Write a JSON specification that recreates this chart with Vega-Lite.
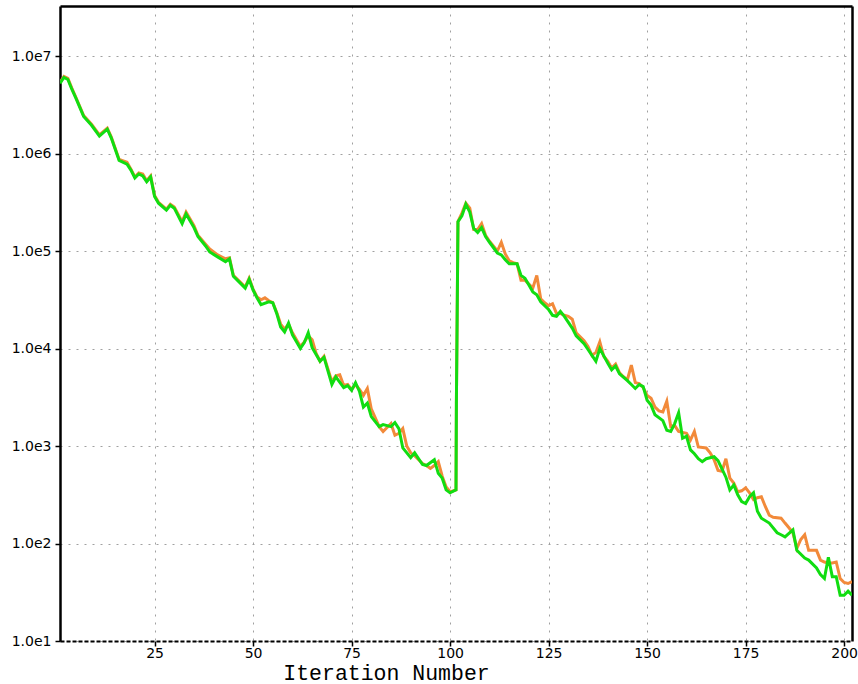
{
 "$schema": "https://vega.github.io/schema/vega-lite/v6.json",
 "width": 792,
 "height": 635,
 "autosize": "none",
 "padding": {"left": 60, "top": 6, "right": 6, "bottom": 43},
 "background": "white",
 "config": {"view": {"stroke": null}},
 "datasets": {
  "orange": [
   {"iteration":1,"residual":5370000},{"iteration":2,"residual":6170000},{"iteration":3,"residual":5890000},{"iteration":4,"residual":4680000},{"iteration":5,"residual":3800000},{"iteration":7,"residual":2450000},{"iteration":9,"residual":2000000},{"iteration":11,"residual":1550000},{"iteration":13,"residual":1820000},{"iteration":14,"residual":1480000},{"iteration":16,"residual":871000},{"iteration":18,"residual":813000},{"iteration":19,"residual":692000},{"iteration":20,"residual":575000},{"iteration":21,"residual":631000},{"iteration":22,"residual":617000},{"iteration":23,"residual":525000},{"iteration":24,"residual":589000},{"iteration":25,"residual":372000},{"iteration":26,"residual":316000},{"iteration":28,"residual":269000},{"iteration":29,"residual":302000},{"iteration":30,"residual":282000},{"iteration":32,"residual":200000},{"iteration":33,"residual":251000},{"iteration":35,"residual":182000},{"iteration":36,"residual":145000},{"iteration":38,"residual":117000},{"iteration":39,"residual":105000},{"iteration":41,"residual":91200},{"iteration":43,"residual":83200},{"iteration":44,"residual":85100},{"iteration":45,"residual":56200},{"iteration":47,"residual":46800},{"iteration":48,"residual":42700},{"iteration":49,"residual":52500},{"iteration":50,"residual":40700},{"iteration":51,"residual":33900},{"iteration":52,"residual":31600},{"iteration":53,"residual":33100},{"iteration":54,"residual":30900},{"iteration":55,"residual":29500},{"iteration":56,"residual":23400},{"iteration":57,"residual":17800},{"iteration":58,"residual":15800},{"iteration":59,"residual":17800},{"iteration":60,"residual":14500},{"iteration":62,"residual":10500},{"iteration":63,"residual":11700},{"iteration":64,"residual":13500},{"iteration":65,"residual":12300},{"iteration":66,"residual":8910},{"iteration":67,"residual":7410},{"iteration":68,"residual":8320},{"iteration":70,"residual":4570},{"iteration":71,"residual":5250},{"iteration":72,"residual":5370},{"iteration":73,"residual":4170},{"iteration":74,"residual":4270},{"iteration":75,"residual":3800},{"iteration":76,"residual":4270},{"iteration":77,"residual":3800},{"iteration":78,"residual":3310},{"iteration":79,"residual":3890},{"iteration":80,"residual":2400},{"iteration":82,"residual":1580},{"iteration":83,"residual":1410},{"iteration":85,"residual":1700},{"iteration":86,"residual":1290},{"iteration":87,"residual":1350},{"iteration":88,"residual":1510},{"iteration":89,"residual":1000},{"iteration":90,"residual":851},{"iteration":91,"residual":794},{"iteration":93,"residual":661},{"iteration":94,"residual":631},{"iteration":95,"residual":589},{"iteration":96,"residual":631},{"iteration":97,"residual":692},{"iteration":98,"residual":490},{"iteration":99,"residual":380},{"iteration":100,"residual":339},{"iteration":101.5,"residual":355},{"iteration":101.6,"residual":2750},{"iteration":101.8,"residual":22900},{"iteration":102,"residual":200000},{"iteration":103,"residual":245000},{"iteration":104,"residual":309000},{"iteration":105,"residual":275000},{"iteration":106,"residual":166000},{"iteration":107,"residual":166000},{"iteration":108,"residual":191000},{"iteration":109,"residual":145000},{"iteration":110,"residual":126000},{"iteration":112,"residual":100000},{"iteration":113,"residual":123000},{"iteration":114,"residual":93300},{"iteration":115,"residual":79400},{"iteration":116,"residual":75900},{"iteration":117,"residual":74100},{"iteration":118,"residual":50100},{"iteration":119,"residual":50100},{"iteration":120,"residual":45700},{"iteration":121,"residual":41700},{"iteration":122,"residual":56200},{"iteration":123,"residual":32400},{"iteration":124,"residual":29500},{"iteration":125,"residual":27500},{"iteration":126,"residual":28800},{"iteration":127,"residual":22900},{"iteration":128,"residual":22900},{"iteration":129,"residual":21900},{"iteration":130,"residual":21400},{"iteration":131,"residual":20000},{"iteration":132,"residual":14500},{"iteration":134,"residual":12000},{"iteration":135,"residual":10500},{"iteration":136,"residual":8510},{"iteration":137,"residual":9120},{"iteration":138,"residual":11700},{"iteration":139,"residual":8320},{"iteration":140,"residual":7410},{"iteration":141,"residual":6310},{"iteration":142,"residual":6920},{"iteration":143,"residual":5620},{"iteration":144,"residual":5130},{"iteration":145,"residual":4790},{"iteration":146,"residual":6760},{"iteration":147,"residual":4470},{"iteration":148,"residual":4370},{"iteration":149,"residual":3980},{"iteration":150,"residual":3310},{"iteration":151,"residual":3090},{"iteration":152,"residual":2510},{"iteration":153,"residual":2290},{"iteration":154,"residual":2240},{"iteration":155,"residual":2880},{"iteration":156,"residual":1580},{"iteration":157,"residual":1620},{"iteration":158,"residual":1410},{"iteration":159,"residual":1380},{"iteration":160,"residual":1350},{"iteration":161,"residual":1150},{"iteration":162,"residual":1410},{"iteration":163,"residual":977},{"iteration":165,"residual":955},{"iteration":166,"residual":851},{"iteration":167,"residual":724},{"iteration":168,"residual":562},{"iteration":169,"residual":550},{"iteration":170,"residual":741},{"iteration":171,"residual":468},{"iteration":172,"residual":417},{"iteration":173,"residual":339},{"iteration":174,"residual":347},{"iteration":175,"residual":372},{"iteration":176,"residual":331},{"iteration":177,"residual":282},{"iteration":178,"residual":295},{"iteration":179,"residual":302},{"iteration":180,"residual":240},{"iteration":181,"residual":195},{"iteration":182,"residual":186},{"iteration":184,"residual":182},{"iteration":185,"residual":162},{"iteration":186,"residual":145},{"iteration":187,"residual":129},{"iteration":188,"residual":89.1},{"iteration":189,"residual":110},{"iteration":190,"residual":123},{"iteration":191,"residual":85.1},{"iteration":193,"residual":85.1},{"iteration":194,"residual":67.6},{"iteration":195,"residual":64.6},{"iteration":196,"residual":63.1},{"iteration":197,"residual":63.1},{"iteration":198,"residual":64.6},{"iteration":199,"residual":43.7},{"iteration":200,"residual":39.8},{"iteration":201,"residual":38.9},{"iteration":202,"residual":40.7}
  ],
  "green": [
   {"iteration":1,"residual":5250000},{"iteration":2,"residual":6030000},{"iteration":3,"residual":5750000},{"iteration":4,"residual":4570000},{"iteration":5,"residual":3720000},{"iteration":7,"residual":2400000},{"iteration":9,"residual":1950000},{"iteration":11,"residual":1510000},{"iteration":13,"residual":1780000},{"iteration":14,"residual":1450000},{"iteration":16,"residual":851000},{"iteration":18,"residual":776000},{"iteration":19,"residual":676000},{"iteration":20,"residual":562000},{"iteration":21,"residual":617000},{"iteration":22,"residual":589000},{"iteration":23,"residual":513000},{"iteration":24,"residual":575000},{"iteration":25,"residual":363000},{"iteration":26,"residual":309000},{"iteration":28,"residual":263000},{"iteration":29,"residual":295000},{"iteration":30,"residual":275000},{"iteration":32,"residual":191000},{"iteration":33,"residual":240000},{"iteration":35,"residual":174000},{"iteration":36,"residual":141000},{"iteration":38,"residual":112000},{"iteration":39,"residual":97700},{"iteration":41,"residual":87100},{"iteration":43,"residual":77600},{"iteration":44,"residual":83200},{"iteration":45,"residual":55000},{"iteration":47,"residual":45700},{"iteration":48,"residual":41700},{"iteration":49,"residual":51300},{"iteration":50,"residual":39800},{"iteration":51,"residual":33100},{"iteration":52,"residual":28200},{"iteration":54,"residual":30200},{"iteration":55,"residual":29500},{"iteration":56,"residual":22900},{"iteration":57,"residual":16600},{"iteration":58,"residual":14800},{"iteration":59,"residual":18200},{"iteration":60,"residual":13800},{"iteration":62,"residual":10000},{"iteration":63,"residual":11500},{"iteration":64,"residual":14500},{"iteration":65,"residual":10200},{"iteration":67,"residual":7410},{"iteration":68,"residual":8130},{"iteration":70,"residual":4270},{"iteration":71,"residual":5130},{"iteration":73,"residual":3980},{"iteration":74,"residual":4170},{"iteration":75,"residual":3720},{"iteration":76,"residual":4470},{"iteration":77,"residual":3630},{"iteration":78,"residual":2510},{"iteration":79,"residual":2750},{"iteration":80,"residual":2000},{"iteration":82,"residual":1580},{"iteration":83,"residual":1660},{"iteration":85,"residual":1580},{"iteration":86,"residual":1740},{"iteration":87,"residual":1510},{"iteration":88,"residual":955},{"iteration":90,"residual":759},{"iteration":91,"residual":851},{"iteration":93,"residual":646},{"iteration":94,"residual":631},{"iteration":96,"residual":724},{"iteration":97,"residual":525},{"iteration":98,"residual":468},{"iteration":99,"residual":355},{"iteration":100,"residual":331},{"iteration":101.5,"residual":355},{"iteration":101.6,"residual":2750},{"iteration":101.8,"residual":22900},{"iteration":102,"residual":200000},{"iteration":103,"residual":229000},{"iteration":104,"residual":302000},{"iteration":105,"residual":251000},{"iteration":106,"residual":170000},{"iteration":107,"residual":155000},{"iteration":108,"residual":174000},{"iteration":109,"residual":141000},{"iteration":110,"residual":123000},{"iteration":112,"residual":95500},{"iteration":113,"residual":91200},{"iteration":114,"residual":81300},{"iteration":115,"residual":74100},{"iteration":117,"residual":74100},{"iteration":118,"residual":56200},{"iteration":119,"residual":52500},{"iteration":120,"residual":44700},{"iteration":121,"residual":38000},{"iteration":122,"residual":35500},{"iteration":123,"residual":30200},{"iteration":125,"residual":25100},{"iteration":126,"residual":21900},{"iteration":127,"residual":21400},{"iteration":128,"residual":24000},{"iteration":129,"residual":21400},{"iteration":131,"residual":16200},{"iteration":132,"residual":13500},{"iteration":134,"residual":11200},{"iteration":135,"residual":9770},{"iteration":137,"residual":7410},{"iteration":138,"residual":10000},{"iteration":140,"residual":7080},{"iteration":141,"residual":6030},{"iteration":142,"residual":6610},{"iteration":143,"residual":5500},{"iteration":145,"residual":4680},{"iteration":146,"residual":4270},{"iteration":147,"residual":3890},{"iteration":148,"residual":4270},{"iteration":149,"residual":4070},{"iteration":150,"residual":2950},{"iteration":151,"residual":2630},{"iteration":152,"residual":2090},{"iteration":154,"residual":1820},{"iteration":155,"residual":1450},{"iteration":156,"residual":1410},{"iteration":157,"residual":1700},{"iteration":158,"residual":2190},{"iteration":159,"residual":1200},{"iteration":160,"residual":1260},{"iteration":161,"residual":912},{"iteration":162,"residual":832},{"iteration":163,"residual":741},{"iteration":164,"residual":692},{"iteration":165,"residual":741},{"iteration":167,"residual":776},{"iteration":168,"residual":708},{"iteration":170,"residual":479},{"iteration":171,"residual":355},{"iteration":172,"residual":398},{"iteration":173,"residual":316},{"iteration":174,"residual":269},{"iteration":175,"residual":257},{"iteration":176,"residual":302},{"iteration":177,"residual":331},{"iteration":178,"residual":214},{"iteration":179,"residual":182},{"iteration":181,"residual":162},{"iteration":183,"residual":129},{"iteration":184,"residual":123},{"iteration":185,"residual":117},{"iteration":187,"residual":138},{"iteration":188,"residual":85.1},{"iteration":190,"residual":70.8},{"iteration":191,"residual":67.6},{"iteration":193,"residual":56.2},{"iteration":194,"residual":47.9},{"iteration":195,"residual":43.7},{"iteration":196,"residual":72.4},{"iteration":197,"residual":45.7},{"iteration":198,"residual":45.7},{"iteration":199,"residual":29.5},{"iteration":200,"residual":29.5},{"iteration":201,"residual":32.4},{"iteration":202,"residual":29.5}
  ]
 },
 "layer": [
  {
   "data": {"name": "orange"},
   "mark": {"type": "line", "color": "#f28a3a", "strokeWidth": 3, "clip": true},
   "encoding": {
    "x": {
     "field": "iteration", "type": "quantitative",
     "scale": {"domain": [1, 202], "nice": false, "zero": false},
     "axis": {
      "orient": "bottom", "values": [25, 50, 75, 100, 125, 150, 175, 200],
      "title": "Iteration Number",
      "grid": true, "gridColor": "#a0a0a0", "gridDash": [2, 6], "gridWidth": 1,
      "domainColor": "black", "domainDash": [4, 2], "domainWidth": 2,
      "tickColor": "black", "tickSize": 5, "tickWidth": 1.5,
      "labelFont": "DejaVu Sans", "labelFontSize": 14, "labelColor": "black", "labelPadding": 0,
      "titleFont": "Liberation Mono", "titleFontSize": 21.5, "titleFontWeight": "normal", "titleColor": "black",
      "titleX": 326, "titleY": 38, "titleBaseline": "alphabetic"
     }
    },
    "y": {
     "field": "residual", "type": "quantitative",
     "scale": {"type": "log", "domain": [10, 32600000], "nice": false},
     "axis": {
      "orient": "left", "values": [10, 100, 1000, 10000, 100000, 1000000, 10000000],
      "labelExpr": "'1.0e' + round(log(datum.value) / LN10)",
      "title": null,
      "grid": true, "gridColor": "#a0a0a0", "gridDash": [2, 6], "gridWidth": 1,
      "domainColor": "black", "domainWidth": 2.5,
      "tickColor": "black", "tickSize": 5, "tickWidth": 1.5,
      "labelFont": "DejaVu Sans", "labelFontSize": 14, "labelColor": "black", "labelPadding": 4
     }
    }
   }
  },
  {
   "data": {"name": "green"},
   "mark": {"type": "line", "color": "#11dd11", "strokeWidth": 3, "clip": true},
   "encoding": {
    "x": {
     "field": "iteration", "type": "quantitative",
     "axis": {"orient": "top", "labels": false, "ticks": false, "grid": false, "domainColor": "black", "domainWidth": 2.5, "title": null}
    },
    "y": {
     "field": "residual", "type": "quantitative",
     "axis": {"orient": "right", "labels": false, "ticks": false, "grid": false, "domainColor": "black", "domainWidth": 2.5, "title": null}
    }
   }
  }
 ],
 "resolve": {"axis": {"x": "independent", "y": "independent"}}
}
